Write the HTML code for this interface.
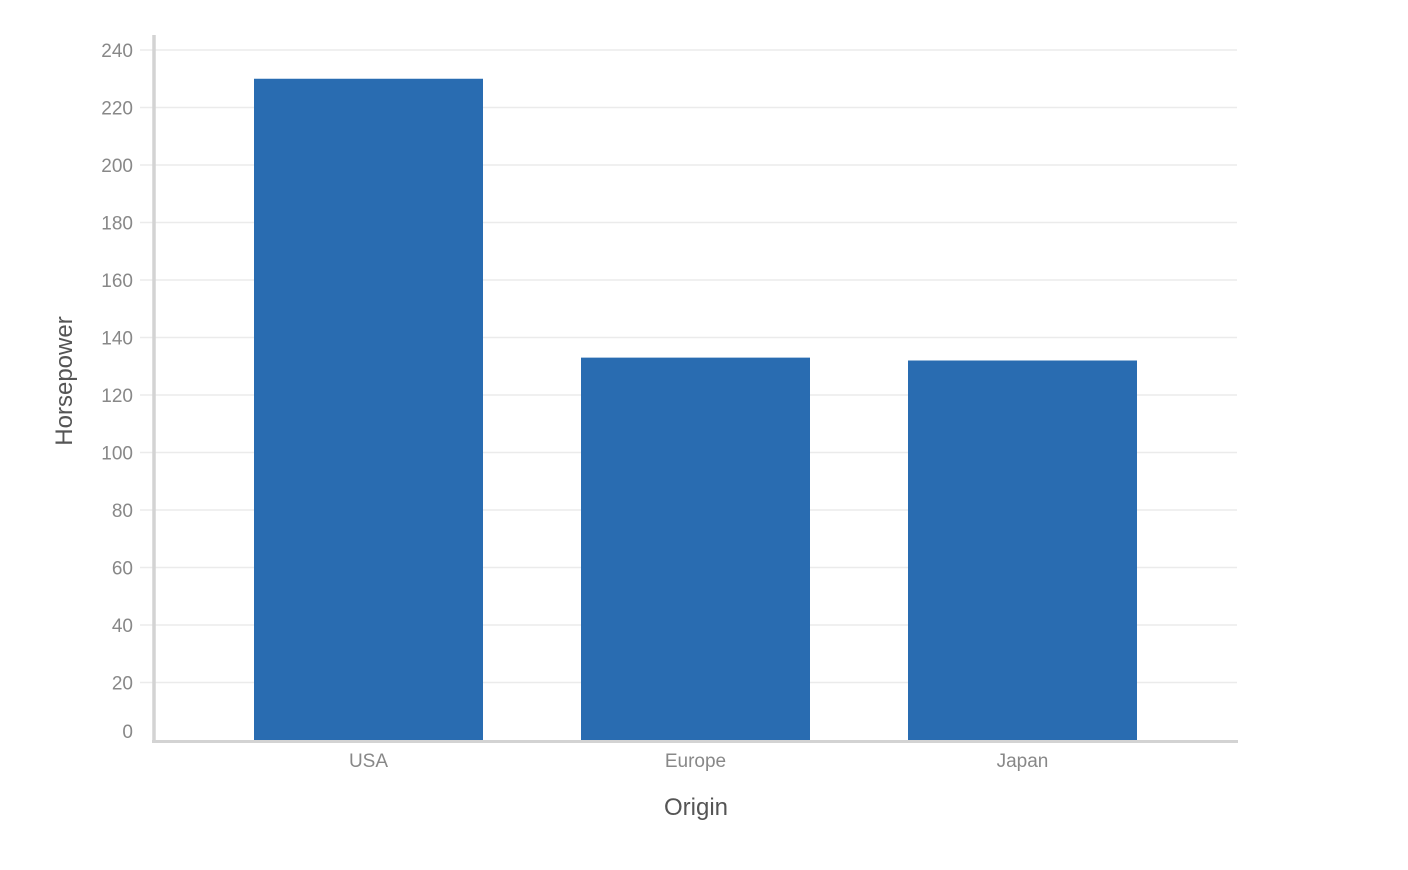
<!DOCTYPE html>
<html><head><meta charset="utf-8"><style>
body{margin:0;background:#fff;}
svg{display:block;font-family:"Liberation Sans",sans-serif;}
</style></head><body>
<svg id="chart" width="1408" height="870"></svg>
<script>
const categories=["USA","Europe","Japan"];
const values=[230,133,132];
const yTicks=[0,20,40,60,80,100,120,140,160,180,200,220,240];
const NS="http://www.w3.org/2000/svg";
const svg=document.getElementById('chart');
const y0=740,yTop=50,yMax=240;
function yScale(v){return y0-(v/yMax)*(y0-yTop);}
const bandStart=205,step=327,barW=229;
function xCenter(i){return bandStart+step*i+step/2;}
function mk(tag,attrs,parent){const e=document.createElementNS(NS,tag);for(const k in attrs)e.setAttribute(k,attrs[k]);(parent||svg).appendChild(e);return e;}
const grid=mk('g',{});


yTicks.forEach(t=>{
  const y=yScale(t);
  if(t>0){const l=mk('line',{x1:140,x2:1237,y1:y,y2:y,stroke:'#ebebeb','stroke-width':1.5},grid);
  
  }
  const tx=mk('text',{x:133,y:(t===0?731:y)+7,'text-anchor':'end','font-size':19,fill:'#888'});
  tx.textContent=t;
  
  
});
categories.forEach((c,i)=>{
  const top=yScale(values[i]);
  const r=mk('rect',{x:xCenter(i)-barW/2,y:top,width:barW,height:y0-top,fill:'#296cb1'});
  
  
  const t=mk('text',{x:xCenter(i),y:767,'text-anchor':'middle','font-size':19,fill:'#888'});
  t.textContent=c;
  
  
});
const ya=mk('line',{x1:154,x2:154,y1:35,y2:743,stroke:'#d3d3d3','stroke-width':3.5});


const xa=mk('line',{x1:152,x2:1238,y1:741.5,y2:741.5,stroke:'#d3d3d3','stroke-width':3});


const xt=mk('text',{x:696,y:815,'text-anchor':'middle','font-size':24,fill:'#555'});
xt.textContent='Origin';


const yt=mk('text',{x:0,y:0,'text-anchor':'middle','font-size':24,fill:'#555',transform:'translate(72,381) rotate(-90)'});
yt.textContent='Horsepower';


</script>
</body></html>
